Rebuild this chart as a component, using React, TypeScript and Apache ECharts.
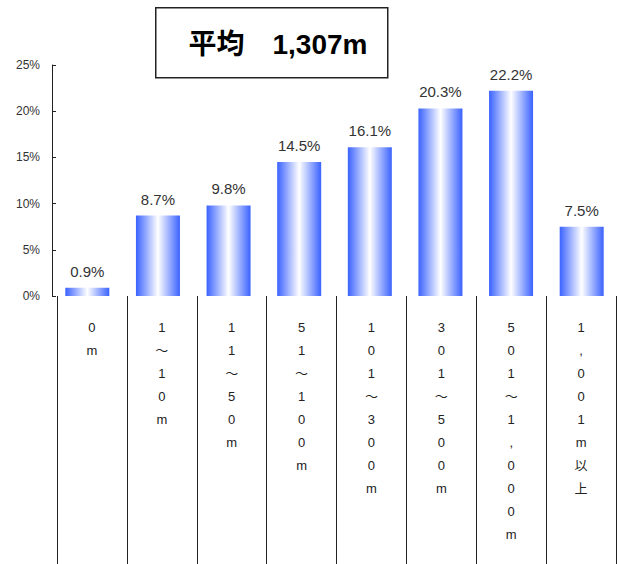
import React, { useEffect, useRef } from "react";
import * as echarts from "echarts";

const categories = ["0m", "1～10m", "11～50m", "51～100m", "101～300m", "301～500m", "501～1,000m", "1,001m以上"];
const values = [0.9, 8.7, 9.8, 14.5, 16.1, 20.3, 22.2, 7.5];
const yMin = 0;
const yMax = 25;
const yStep = 5;
const titleText = "平均　1,307m";

export default function App() {
  const ref = useRef<HTMLDivElement>(null);
  useEffect(() => {
    if (!ref.current) return;
    const chart = echarts.init(ref.current, null, { renderer: "svg" });
    const font = "'Liberation Sans', 'Noto Sans CJK JP', sans-serif";
    chart.setOption({
      animation: false,
      backgroundColor: "#ffffff",
      textStyle: { fontFamily: font },
      grid: [
        { left: 52, top: 65, width: 568, height: 231 },
        { left: 57, top: 296, width: 559, height: 268 },
      ],
      xAxis: [
        {
          type: "category",
          gridIndex: 0,
          data: categories,
          axisLine: { show: false },
          axisTick: { show: false },
          axisLabel: { show: false },
        },
        {
          type: "category",
          gridIndex: 1,
          position: "top",
          data: categories.map((c) => Array.from(c).join("\n")),
          axisLine: { show: false },
          axisTick: { show: false },
          splitLine: { show: true, interval: 0, lineStyle: { color: "#222", width: 1 } },
          axisLabel: {
            show: true,
            inside: true,
            interval: 0,
            margin: 20,
            verticalAlign: "top",
            fontSize: 13,
            lineHeight: 23,
            color: "#222",
            fontFamily: font,
          },
        },
      ],
      yAxis: [
        {
          type: "value",
          gridIndex: 0,
          min: yMin,
          max: yMax,
          interval: yStep,
          axisLine: { show: true, lineStyle: { color: "#222", width: 1 } },
          axisTick: { show: true, inside: true, length: 4, lineStyle: { color: "#222" } },
          splitLine: { show: false },
          axisLabel: { formatter: "{value}%", fontSize: 12, color: "#333", margin: 12, fontFamily: font },
        },
        {
          type: "value",
          gridIndex: 1,
          show: false,
        },
      ],
      series: [
        {
          type: "bar",
          xAxisIndex: 0,
          yAxisIndex: 0,
          data: values,
          barWidth: 44,
          itemStyle: {
            color: new echarts.graphic.LinearGradient(0, 0, 1, 0, [
              { offset: 0, color: "#3a62ff" },
              { offset: 0.5, color: "#ffffff" },
              { offset: 1, color: "#3a62ff" },
            ]),
          },
          label: {
            show: true,
            position: "top",
            distance: 9,
            formatter: "{c}%",
            fontSize: 15,
            color: "#333",
            fontFamily: font,
          },
        },
      ],
      graphic: [
        {
          type: "rect",
          left: 155,
          top: 7,
          shape: { width: 232, height: 70 },
          style: { fill: "#ffffff", stroke: "#222", lineWidth: 1.5 },
        },
        {
          type: "text",
          x: 278,
          y: 44,
          style: {
            text: titleText,
            align: "center",
            verticalAlign: "middle",
            font: "bold 28px " + font,
            fill: "#000",
          },
        },
      ],
    });
    return () => chart.dispose();
  }, []);
  return <div ref={ref} style={{ position: "fixed", left: 0, top: 0, width: 617, height: 564 }} />;
}
